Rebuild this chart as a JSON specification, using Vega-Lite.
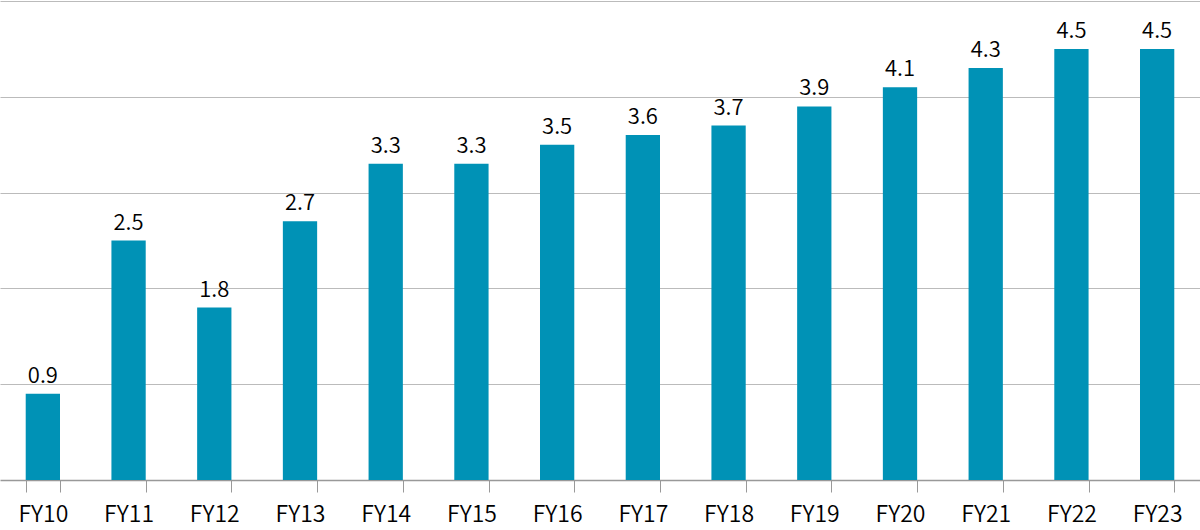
{
  "$schema": "https://vega.github.io/schema/vega-lite/v6.json",
  "width": 1200,
  "height": 479,
  "autosize": {"type": "none"},
  "padding": {"left": 0, "top": 1, "right": 0, "bottom": 50},
  "background": "white",
  "config": {"view": {"stroke": null}, "font": "Noto Sans CJK JP"},
  "data": {"values": [
    {"year": "FY10", "value": 0.9},
    {"year": "FY11", "value": 2.5},
    {"year": "FY12", "value": 1.8},
    {"year": "FY13", "value": 2.7},
    {"year": "FY14", "value": 3.3},
    {"year": "FY15", "value": 3.3},
    {"year": "FY16", "value": 3.5},
    {"year": "FY17", "value": 3.6},
    {"year": "FY18", "value": 3.7},
    {"year": "FY19", "value": 3.9},
    {"year": "FY20", "value": 4.1},
    {"year": "FY21", "value": 4.3},
    {"year": "FY22", "value": 4.5},
    {"year": "FY23", "value": 4.5}
  ]},
  "encoding": {
    "x": {
      "field": "year", "type": "nominal", "sort": null,
      "scale": {"paddingInner": 0.6, "paddingOuter": 0.3},
      "axis": {
        "title": null, "labelAngle": 0, "labelFontSize": 23, "labelColor": "#000",
        "labelFont": "Noto Sans CJK JP", "labelFontWeight": 350, "labelPadding": 11,
        "tickBand": "extent", "tickSize": 12, "tickColor": "#999", "tickWidth": 1,
        "domainColor": "#999", "domainWidth": 1.5, "grid": false
      }
    },
    "y": {
      "field": "value", "type": "quantitative",
      "scale": {"domain": [0, 5], "nice": false},
      "axis": {
        "title": null, "labels": false, "ticks": false, "domain": false,
        "grid": true, "gridColor": "#bbb", "gridWidth": 1, "values": [1, 2, 3, 4, 5]
      }
    }
  },
  "layer": [
    {"mark": {"type": "bar", "color": "#0092b6"}},
    {
      "mark": {"type": "text", "baseline": "alphabetic", "dy": -11, "fontSize": 22, "fontWeight": 350, "color": "#000", "font": "Noto Sans CJK JP"},
      "encoding": {"text": {"field": "value", "type": "quantitative", "format": ".1f"}}
    }
  ]
}
